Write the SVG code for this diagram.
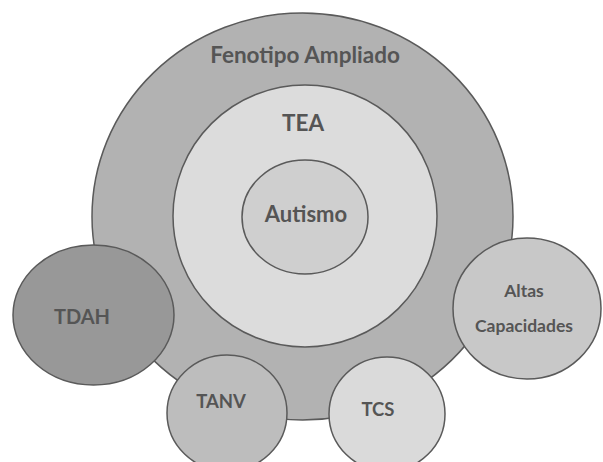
<svg xmlns="http://www.w3.org/2000/svg" width="603" height="462" viewBox="0 0 603 462">
<style>
.c{stroke:#5a5a5a;stroke-width:1.5}
text{font-family:Lato,"Open Sans","Liberation Sans",sans-serif;font-weight:bold;fill:#555;text-anchor:middle}
</style>
<rect width="603" height="462" fill="#fff"/>
<g id="fenotipo">
<ellipse class="c" cx="302.5" cy="216.5" rx="210.5" ry="203.5" fill="#b2b2b2"/>
<text x="305" y="63" font-size="22.5">Fenotipo Ampliado</text>
</g>
<g id="tea">
<ellipse class="c" cx="305" cy="216" rx="132" ry="131" fill="#dcdcdc"/>
<text x="303" y="131" font-size="22.5">TEA</text>
</g>
<g id="autismo">
<ellipse class="c" cx="305" cy="217" rx="63" ry="57" fill="#cfcfcf"/>
<text x="306" y="222" font-size="22">Autismo</text>
</g>
<g id="tdah">
<ellipse class="c" cx="93.5" cy="315" rx="80.5" ry="70" fill="#989898"/>
<text x="82" y="324" font-size="20">TDAH</text>
</g>
<g id="altas">
<ellipse class="c" cx="527" cy="308.5" rx="74" ry="70.5" fill="#c8c8c8"/>
<text x="524" y="297" font-size="17.5">Altas</text>
<text x="524" y="332" font-size="17.5">Capacidades</text>
</g>
<g id="tanv">
<ellipse class="c" cx="227" cy="413" rx="60" ry="58" fill="#bdbdbd"/>
<text x="221" y="408" font-size="18.5">TANV</text>
</g>
<g id="tcs">
<ellipse class="c" cx="387" cy="414" rx="58" ry="57" fill="#dadada"/>
<text x="378" y="416" font-size="18.5">TCS</text>
</g>
<g id="connectors"></g>
</svg>
